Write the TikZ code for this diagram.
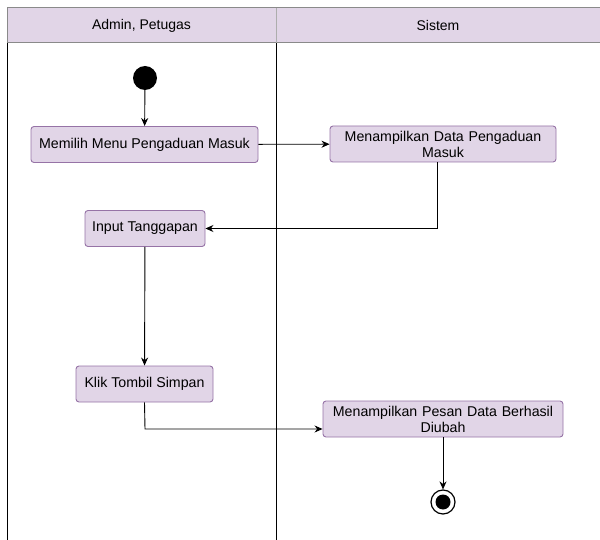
\documentclass[tikz,border=0pt]{standalone}
\usepackage{fontspec}
\setmainfont{Liberation Sans}
\usetikzlibrary{arrows.meta,calc}
\definecolor{actfill}{HTML}{E1D5E7}
\definecolor{actdraw}{HTML}{9673A6}
\definecolor{hdrline}{HTML}{8A8A8A}
\tikzset{
  act/.style={draw=actdraw, fill=actfill, rounded corners=3pt, line width=0.9pt,
    minimum height=36pt, inner sep=2pt, align=center, font=\fontsize{14.2}{16}\selectfont},
  hdr/.style={font=\fontsize{14}{16}\selectfont},
  flow/.style={draw, line width=0.9pt, -{Stealth[length=8pt,width=7pt]}},
  lane/.style={draw, line width=0.9pt},
}
\begin{document}
\begin{tikzpicture}[x=1pt,y=-1pt]
\useasboundingbox (0,0) rectangle (600,540);
% header
\fill[actfill] (7,8) rectangle (600,43);
\draw[hdrline, line width=1pt] (600,8) -- (7,8) -- (7,43) -- (600,43);
\draw[hdrline!70, line width=0.8pt] (276,8) -- (276,43);
\node[hdr] (h1) at (141.5,25.5) {Admin, Petugas};
\node[hdr] (h2) at (438,25.5) {Sistem};
% lanes
\draw[lane] (7,43) -- (7,540);
\draw[lane] (276,43) -- (276,540);
% nodes
\node[circle, fill=black, minimum size=24pt, inner sep=0pt] (start) at (145,78) {};
\node[act, minimum width=227pt] (n1) at (144.5,144.5) {Memilih Menu Pengaduan Masuk};
\node[act, minimum width=226pt, text width=220pt] (n2) at (443,144) {Menampilkan Data Pengaduan\\Masuk};
\node[act, minimum width=120pt] (n3) at (145,228.5) {Input Tanggapan};
\node[act, minimum width=137pt] (n4) at (144.5,384) {Klik Tombil Simpan};
\node[act, minimum width=240pt, text width=234pt] (n5) at (443,419) {Menampilkan Pesan Data Berhasil\\Diubah};
\node[circle, draw=black, line width=1.2pt, fill=white, minimum size=24pt, inner sep=0pt] (end) at (443,502) {};
\fill[black] (end.center) circle (7.5pt);
% connectors
\coordinate (c2) at (437,228.5);
\coordinate (c4) at (145,429);
\draw[flow] (start) -- (n1);
\draw[flow] (n1) -- (n2);
\draw[flow] (n2.south -| c2) -- (c2) -- (n3.east);
\draw[flow] (n3) -- (n4);
\draw[flow] (n4.south) -- (c4) -- (c4 -| n5.west);
\draw[flow] (n5) -- (end);
\end{tikzpicture}
\end{document}
